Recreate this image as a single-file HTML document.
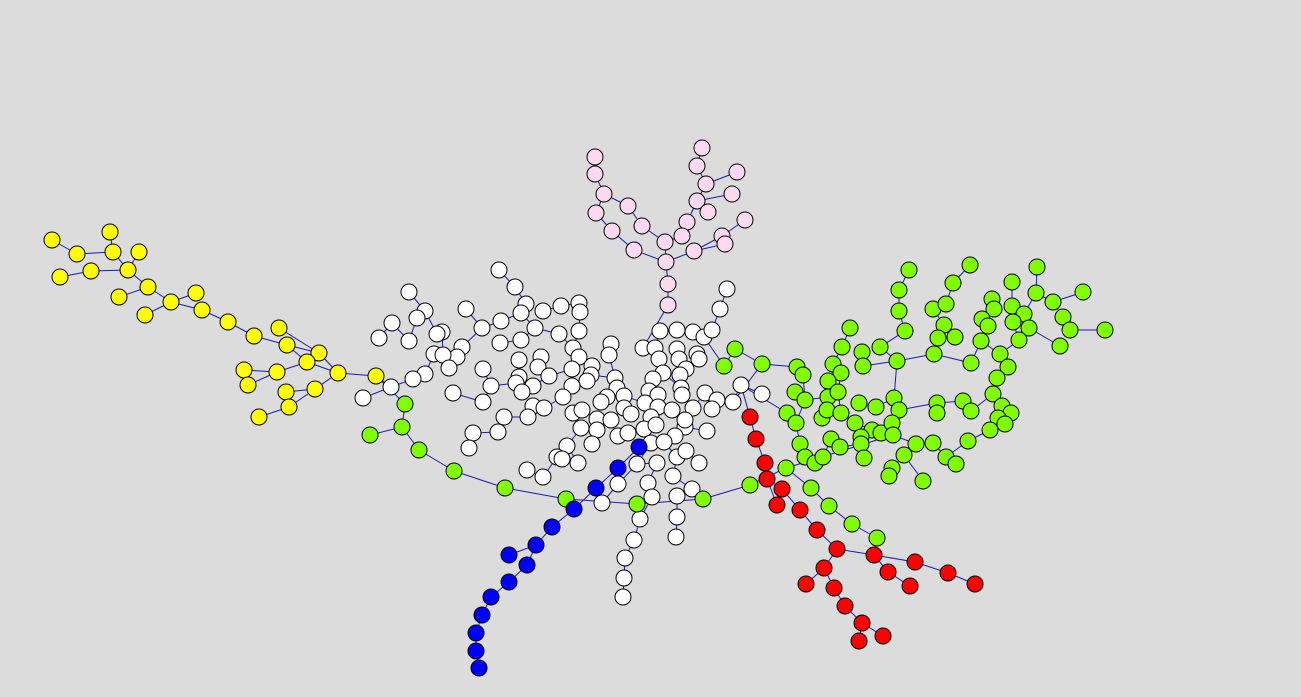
<!DOCTYPE html>
<html><head><meta charset="utf-8">
<style>
html,body{margin:0;padding:0;background:#dcdcdc;}
svg{display:block;}
</style></head>
<body>
<svg id="g" width="1301" height="697" xmlns="http://www.w3.org/2000/svg">
<rect width="1301" height="697" fill="#dcdcdc"/>
<g id="edges"></g>
<g id="nodes"></g>
</svg>
<script>
const yellowNodes=[[52,240],[77,254],[110,232],[113,252],[139,252],[60,277],[91,271],[128,270],[148,287],[119,297],[171,302],[145,315],[196,293],[202,310],[228,322],[254,336],[279,328],[287,345],[319,353],[307,362],[338,373],[376,376],[244,370],[277,372],[248,385],[286,392],[315,389],[289,407],[259,417]];
const yellowEdges=[[0,1],[1,3],[2,3],[3,7],[4,7],[5,6],[6,7],[7,8],[9,8],[8,10],[11,10],[10,12],[10,13],[13,14],[14,15],[15,17],[16,18],[17,18],[17,19],[19,20],[18,20],[20,21],[22,23],[24,23],[23,19],[25,26],[26,20],[27,26],[28,27]];
const pinkNodes=[[595,157],[595,174],[604,194],[596,213],[612,231],[628,206],[642,226],[634,250],[665,242],[666,262],[702,148],[697,166],[706,184],[737,172],[697,201],[732,194],[708,212],[687,222],[682,236],[722,236],[745,220],[694,251],[725,244],[668,284],[668,305]];
const pinkEdges=[[0,1],[1,2],[2,5],[5,6],[6,8],[8,9],[2,3],[3,4],[4,7],[7,9],[10,11],[11,12],[12,13],[12,14],[14,15],[14,17],[17,18],[18,8],[21,9],[21,19],[21,22],[19,20],[19,22],[9,23],[23,24]];
const blueNodes=[[639,447],[618,468],[596,488],[574,509],[552,527],[536,545],[509,555],[527,565],[509,582],[491,597],[482,615],[476,633],[476,651],[479,668]];
const blueEdges=[[0,1],[1,2],[2,3],[3,4],[4,5],[5,6],[5,7],[7,8],[8,9],[9,10],[10,11],[11,12],[12,13]];
const redNodes=[[750,417],[756,439],[765,463],[767,479],[782,489],[777,505],[800,510],[817,530],[837,549],[874,555],[915,562],[948,573],[975,584],[888,572],[910,586],[824,568],[806,584],[834,588],[845,606],[862,623],[883,636],[859,641]];
const redEdges=[[0,1],[1,2],[2,3],[3,4],[3,5],[4,6],[6,7],[7,8],[8,9],[9,10],[10,11],[11,12],[9,13],[13,14],[8,15],[15,16],[15,17],[17,18],[18,19],[19,20],[19,21]];
const greenNodes=[[370,435],[402,427],[405,404],[419,450],[454,471],[505,488],[566,499],[637,504],[703,499],[750,485],[786,468],[811,488],[829,506],[852,524],[877,538],
[909,270],[970,265],[1037,267],[899,290],[953,283],[1012,282],[1036,293],[1083,292],[899,311],[933,309],[946,304],[992,299],[994,309],[1012,306],[1024,314],[1053,302],[1063,317],[850,328],[905,331],[944,325],[982,319],[988,326],[1013,322],[1029,328],[1070,330],[1105,330],[938,338],[955,337],[981,341],[1019,340],[1060,346],[735,349],[842,347],[880,347],[862,352],[863,366],[897,361],[934,354],[971,363],[1000,354],[1008,367],[997,378],[724,366],[762,364],[797,367],[803,375],[833,364],[841,373],[828,381],[795,392],[805,400],[828,397],[838,392],[993,394],[1002,406],[1011,413],[998,418],[1005,424],[990,430],[787,413],[796,423],[822,418],[827,410],[841,413],[859,403],[876,407],[894,398],[899,410],[937,403],[937,413],[963,401],[971,411],[855,423],[872,430],[881,433],[892,423],[893,435],[800,444],[831,439],[840,447],[861,437],[861,444],[864,458],[916,444],[933,443],[968,441],[904,455],[946,457],[956,464],[805,457],[815,463],[823,457],[892,468],[889,476],[923,481]];
const greenChain=[[0,1],[1,2],[1,3],[3,4],[4,5],[5,6],[6,7],[7,8],[8,9],[9,10],[10,91],[11,12],[12,13],[13,14],[10,11]];
const whiteNodes=[[499,270],[515,287],[409,292],[425,311],[417,318],[392,323],[442,332],[437,334],[379,338],[409,341],[466,309],[482,328],[501,321],[526,304],[521,313],[543,311],[561,306],[579,303],[580,312],[535,328],[521,340],[559,334],[579,331],[500,343],[462,347],[457,357],[434,354],[443,355],[449,368],[425,374],[413,379],[391,387],[363,398],[483,369],[519,360],[541,357],[538,367],[549,376],[519,377],[516,383],[533,386],[522,392],[491,386],[453,393],[483,402],[573,348],[579,357],[572,369],[592,366],[591,375],[587,381],[572,386],[611,344],[609,355],[615,378],[617,388],[607,397],[624,396],[601,402],[624,408],[631,414],[563,397],[533,406],[544,408],[528,417],[504,417],[498,432],[473,433],[469,448],[573,413],[582,410],[581,428],[597,419],[597,430],[611,420],[618,436],[628,433],[592,444],[567,446],[557,457],[562,459],[578,463],[527,470],[543,477],[643,348],[655,348],[660,331],[677,330],[693,332],[704,337],[712,330],[720,309],[727,289],[677,349],[659,359],[679,359],[697,354],[699,359],[686,369],[663,373],[680,375],[653,379],[649,391],[658,395],[681,388],[682,395],[645,403],[658,407],[672,410],[693,408],[705,393],[717,400],[712,409],[733,402],[741,385],[762,394],[707,431],[685,427],[685,420],[651,417],[644,429],[656,425],[675,436],[651,443],[664,442],[637,464],[657,463],[677,457],[686,451],[699,463],[673,476],[648,483],[692,489],[652,497],[677,496],[618,484],[602,503],[640,519],[634,540],[625,558],[624,578],[623,597],[677,517],[676,537]];

const E=document.getElementById('edges'),N=document.getElementById('nodes');
const NS='http://www.w3.org/2000/svg';
function line(a,b){const l=document.createElementNS(NS,'line');
l.setAttribute('x1',a[0]);l.setAttribute('y1',a[1]);l.setAttribute('x2',b[0]);l.setAttribute('y2',b[1]);
l.setAttribute('stroke','#1a1ab8');l.setAttribute('stroke-width','1');


E.appendChild(l);}
function tree(nodes,cx,cy){const d=nodes.map(p=>Math.hypot(p[0]-cx,p[1]-cy));
nodes.forEach((p,i)=>{let best=-1,bd=1e9;nodes.forEach((q,j)=>{if(d[j]<d[i]){const dd=Math.hypot(p[0]-q[0],p[1]-q[1]);if(dd<bd){bd=dd;best=j;}}});if(best>=0&&bd<70)line(p,nodes[best]);});}
function edges(nodes,list){list.forEach(e=>line(nodes[e[0]],nodes[e[1]]));}
edges(yellowNodes,yellowEdges);edges(pinkNodes,pinkEdges);edges(blueNodes,blueEdges);edges(redNodes,redEdges);
edges(greenNodes,greenChain);
tree(greenNodes.slice(15),900,400);
tree(whiteNodes,640,395);
line(yellowNodes[21],greenNodes[2]);line(pinkNodes[24],whiteNodes[84]);line(blueNodes[0],whiteNodes[125]);
line(redNodes[0],whiteNodes[114]);line(whiteNodes[114],greenNodes[74]);line(whiteNodes[113],greenNodes[58]);
line(greenNodes[57],whiteNodes[89]);line(yellowNodes[21],whiteNodes[31]);
function draw(nodes,fill,name){nodes.forEach(p=>{const c=document.createElementNS(NS,'circle');
c.setAttribute('cx',p[0]);c.setAttribute('cy',p[1]);c.setAttribute('r','8');
c.setAttribute('fill',fill);c.setAttribute('stroke','#000');c.setAttribute('stroke-width','1');


N.appendChild(c);});}
draw(whiteNodes,'#ffffff','white-node');draw(greenNodes,'#7fff00','green-node');
draw(yellowNodes,'#ffff00','yellow-node');draw(pinkNodes,'#ffd9f0','pink-node');
draw(blueNodes,'#0000ff','blue-node');draw(redNodes,'#ff0000','red-node');
</script>
</body></html>
